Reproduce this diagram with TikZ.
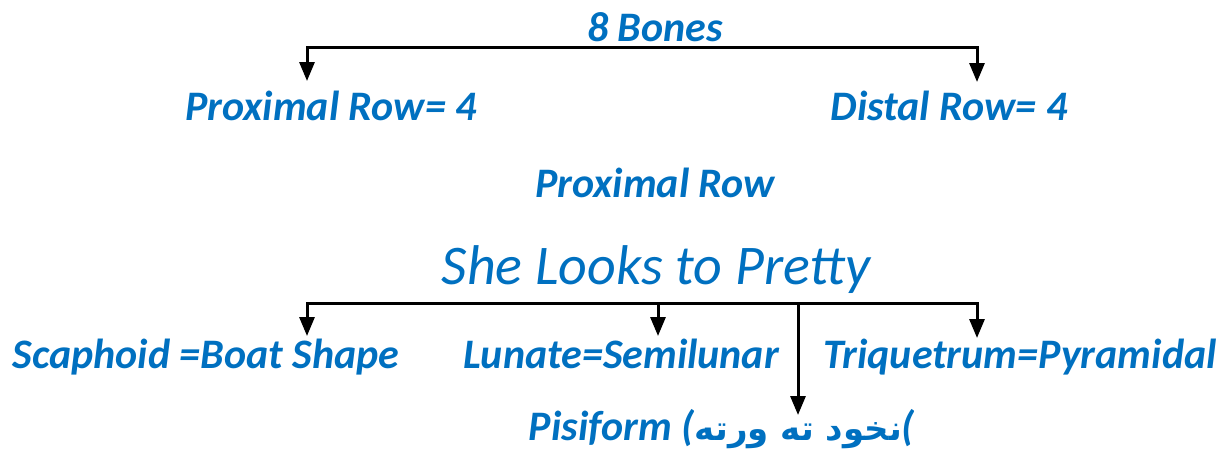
\documentclass[tikz,border=0pt]{standalone}
\usepackage{fontspec}
\setmainfont{Carlito}
\newfontfamily\arabicfont[Script=Arabic]{DejaVu Sans}
\newfontfamily\handfont{Carlito}
\TeXXeTstate=1
\usetikzlibrary{arrows.meta}
\definecolor{lblue}{RGB}{0,112,192}
\begin{document}
\begin{tikzpicture}[x=1pt,y=-1pt,
  lbl/.style={text=lblue, font=\fontsize{42}{50}\selectfont\bfseries\itshape, inner sep=0pt, anchor=base},
  hand/.style={text=lblue, font=\fontsize{56}{64}\handfont\itshape, inner sep=0pt, anchor=base},
  bar/.style={line width=3pt, line cap=rect},
  arr/.style={line width=3pt, -{Triangle[width=15pt,length=19pt]}}]
\useasboundingbox (0,0) rectangle (1224,450);

% texts
\node[lbl] (bones) at (655,41) {8 Bones};
\node[lbl] (prox) at (331,120) {Proximal Row= 4};
\node[lbl] (dist) at (949,120) {Distal Row= 4};
\node[lbl] (proxrow) at (655,197) {Proximal Row};
\node[hand] (mnem) at (656,284) {She Looks to Pretty};
\node[lbl] (scaph) at (206,368) {Scaphoid =Boat Shape};
\node[lbl] (lun) at (621,368) {Lunate=Semilunar};
\node[lbl] (triq) at (1020,368) {Triquetrum=Pyramidal};
\node[lbl] (pisi) at (722,440) {Pisiform ({\arabicfont\upshape\bfseries\fontsize{34}{40}\selectfont\beginR نخود ته ورته\endR}(};

% top bracket
\coordinate (tl) at (307,47);
\coordinate (tr) at (977,47);
\coordinate (tlt) at (307,81);
\coordinate (trt) at (977,82);
\draw[bar] (tl) -- (tr);
\draw[arr] (tl) -- (tlt);
\draw[arr] (tr) -- (trt);

% bottom bracket
\coordinate (bl) at (307,303);
\coordinate (br) at (977,303);
\coordinate (bm) at (658,303);
\coordinate (bp) at (798,303);
\coordinate (blt) at (307,336);
\coordinate (bmt) at (658,336);
\coordinate (brt) at (977,338);
\coordinate (bpt) at (798,415);
\draw[bar] (bl) -- (br);
\draw[arr] (bl) -- (blt);
\draw[arr] (bm) -- (bmt);
\draw[arr] (br) -- (brt);
\draw[arr] (bp) -- (bpt);
\end{tikzpicture}
\end{document}
